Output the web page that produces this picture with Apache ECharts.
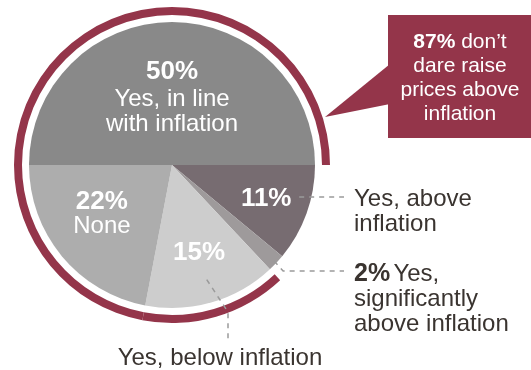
<!DOCTYPE html>
<html>
<head>
<meta charset="utf-8">
<script src="https://cdn.jsdelivr.net/npm/echarts@6/dist/echarts.min.js"></script>
<style>
  html, body { margin: 0; padding: 0; background: #fff; }
  #chart { width: 531px; height: 370px; }
</style>
</head>
<body>
<div id="chart"></div>
<script>
// Survey answers, in drawing order (clockwise from 9 o'clock)
const categories = [
  'Yes, in line with inflation',
  'Yes, above inflation',
  'Yes, significantly above inflation',
  'Yes, below inflation',
  'None'
];
const shares = [50, 11, 2, 15, 22];
const sliceColors = ['#898989', '#776c71', '#9e9a9b', '#cdcdcd', '#adadad'];
// Answers that do not raise prices above inflation (highlighted by the outer ring)
const notAbove = [true, false, false, true, true];
const calloutShare = 87;

const RED = '#94354a';
const DARK = '#3a3430';
const FONT = '"Liberation Sans", Arial, Helvetica, sans-serif';

const cx = 172, cy = 165, R = 143;
const total = shares.reduce((a, b) => a + b, 0);

// Start / end angles of each slice in screen degrees (0 = 3 o'clock, clockwise positive)
const bounds = [];
let acc = 180;
shares.forEach(v => {
  const a0 = acc, a1 = acc + v / total * 360;
  bounds.push([a0, a1]);
  acc = a1;
});
function pt(angle, r) {
  const t = angle * Math.PI / 180;
  return [cx + r * Math.cos(t), cy + r * Math.sin(t)];
}
function mid(i) { return (bounds[i][0] + bounds[i][1]) / 2; }

const chart = echarts.init(document.getElementById('chart'), null, { renderer: 'canvas' });

// Ring data: highlighted stretches in red, the rest left empty
const ringData = shares.map((v, i) => ({
  value: v,
  name: categories[i],
  itemStyle: { color: notAbove[i] ? RED : 'rgba(0,0,0,0)' }
}));

const graphics = [];
const Z = 100;

// Percent labels inside slices
const inner = [
  { i: 0, r: 0.48, lh: 32, off: [0, 0], lines: ['Yes, in line', 'with inflation'] },
  { i: 1, r: 0.70, lh: 27, off: [0, 0], lines: [] },
  { i: 3, r: 0.63, lh: 27, off: [2, 1], lines: [] },
  { i: 4, r: 0.60, lh: 24, off: [-4, -5], lines: ['None'] }
];
inner.forEach(d => {
  const p = pt(mid(d.i), R * d.r);
  const txt = ['{b|' + shares[d.i] + '%}'].concat(d.lines.map(l => '{n|' + l + '}')).join('\n');
  graphics.push({
    type: 'text', x: p[0] + d.off[0], y: p[1] + d.off[1], silent: true, z: Z,
    style: {
      text: txt, align: 'center', verticalAlign: 'middle',
      rich: {
        b: { fontFamily: FONT, fontSize: 26, fontWeight: 'bold', fill: '#fff', lineHeight: d.lh },
        n: { fontFamily: FONT, fontSize: 24, fill: '#fff', lineHeight: 25 }
      }
    }
  });
});

const dash = { stroke: '#9a9a9a', lineWidth: 1.5, lineDash: [5, 5], fill: null };

// 11% leader
{
  const p = pt(mid(1), R * 0.70);
  graphics.push({ type: 'polyline', silent: true, z: Z, shape: { points: [[p[0] + 33, p[1] - 2], [344, p[1] - 2]] }, style: dash });
  graphics.push({
    type: 'text', x: 354, y: p[1] + 13, silent: true, z: Z,
    style: { text: 'Yes, above\ninflation', fontFamily: FONT, fontSize: 24, fill: DARK, lineHeight: 25, verticalAlign: 'middle' }
  });
}
// 2% leader
{
  const p = pt(mid(2), R * 0.98);
  graphics.push({ type: 'polyline', silent: true, z: Z, shape: { points: [p, [p[0] + 9, 271], [344, 271]] }, style: dash });
  graphics.push({
    type: 'text', x: 354, y: 262, silent: true, z: Z,
    style: {
      text: '{b|' + shares[2] + '%} {n|Yes,}\n{n|significantly}\n{n|above inflation}',
      verticalAlign: 'top',
      rich: {
        b: { fontFamily: FONT, fontSize: 25, fontWeight: 'bold', fill: DARK, lineHeight: 25 },
        n: { fontFamily: FONT, fontSize: 24, fill: DARK, lineHeight: 25 }
      }
    }
  });
}
// 15% leader
{
  const p = pt(mid(3), R * 0.82);
  graphics.push({ type: 'polyline', silent: true, z: Z, shape: { points: [[p[0] + 2, p[1] + 2], [228, 312], [228, 342]] }, style: dash });
  graphics.push({
    type: 'text', x: 220, y: 358, silent: true, z: Z,
    style: { text: 'Yes, below inflation', fontFamily: FONT, fontSize: 24, fill: DARK, align: 'center', verticalAlign: 'middle' }
  });
}

// Callout box with pointer towards the ring
graphics.push({
  type: 'polygon', silent: true, z: Z,
  shape: { points: [[390, 64], [325, 117], [390, 104]] },
  style: { fill: RED }
});
graphics.push({
  type: 'rect', silent: true, z: Z,
  shape: { x: 388, y: 15, width: 143, height: 123 },
  style: { fill: RED }
});
graphics.push({
  type: 'text', x: 460, y: 78, silent: true, z: Z + 1,
  style: {
    text: '{b|' + calloutShare + '%}{n| don’t}\n{n|dare raise}\n{n|prices above}\n{n|inflation}',
    align: 'center', verticalAlign: 'middle',
    rich: {
      b: { fontFamily: FONT, fontSize: 21, fontWeight: 'bold', fill: '#fff', lineHeight: 24 },
      n: { fontFamily: FONT, fontSize: 21, fill: '#fff', lineHeight: 24 }
    }
  }
});

chart.setOption({
  animation: false,
  backgroundColor: '#ffffff',
  series: [
    {
      type: 'pie',
      silent: true,
      center: [cx, cy],
      radius: [0, R],
      startAngle: 180,
      clockwise: true,
      label: { show: false },
      labelLine: { show: false },
      itemStyle: { borderWidth: 0 },
      data: shares.map((v, i) => ({ value: v, name: categories[i], itemStyle: { color: sliceColors[i] } }))
    },
    {
      type: 'pie',
      silent: true,
      center: [cx, cy],
      radius: [150, 158],
      startAngle: 180,
      clockwise: true,
      label: { show: false },
      labelLine: { show: false },
      itemStyle: { borderWidth: 0 },
      data: ringData
    }
  ],
  graphic: graphics
});
</script>
</body>
</html>
